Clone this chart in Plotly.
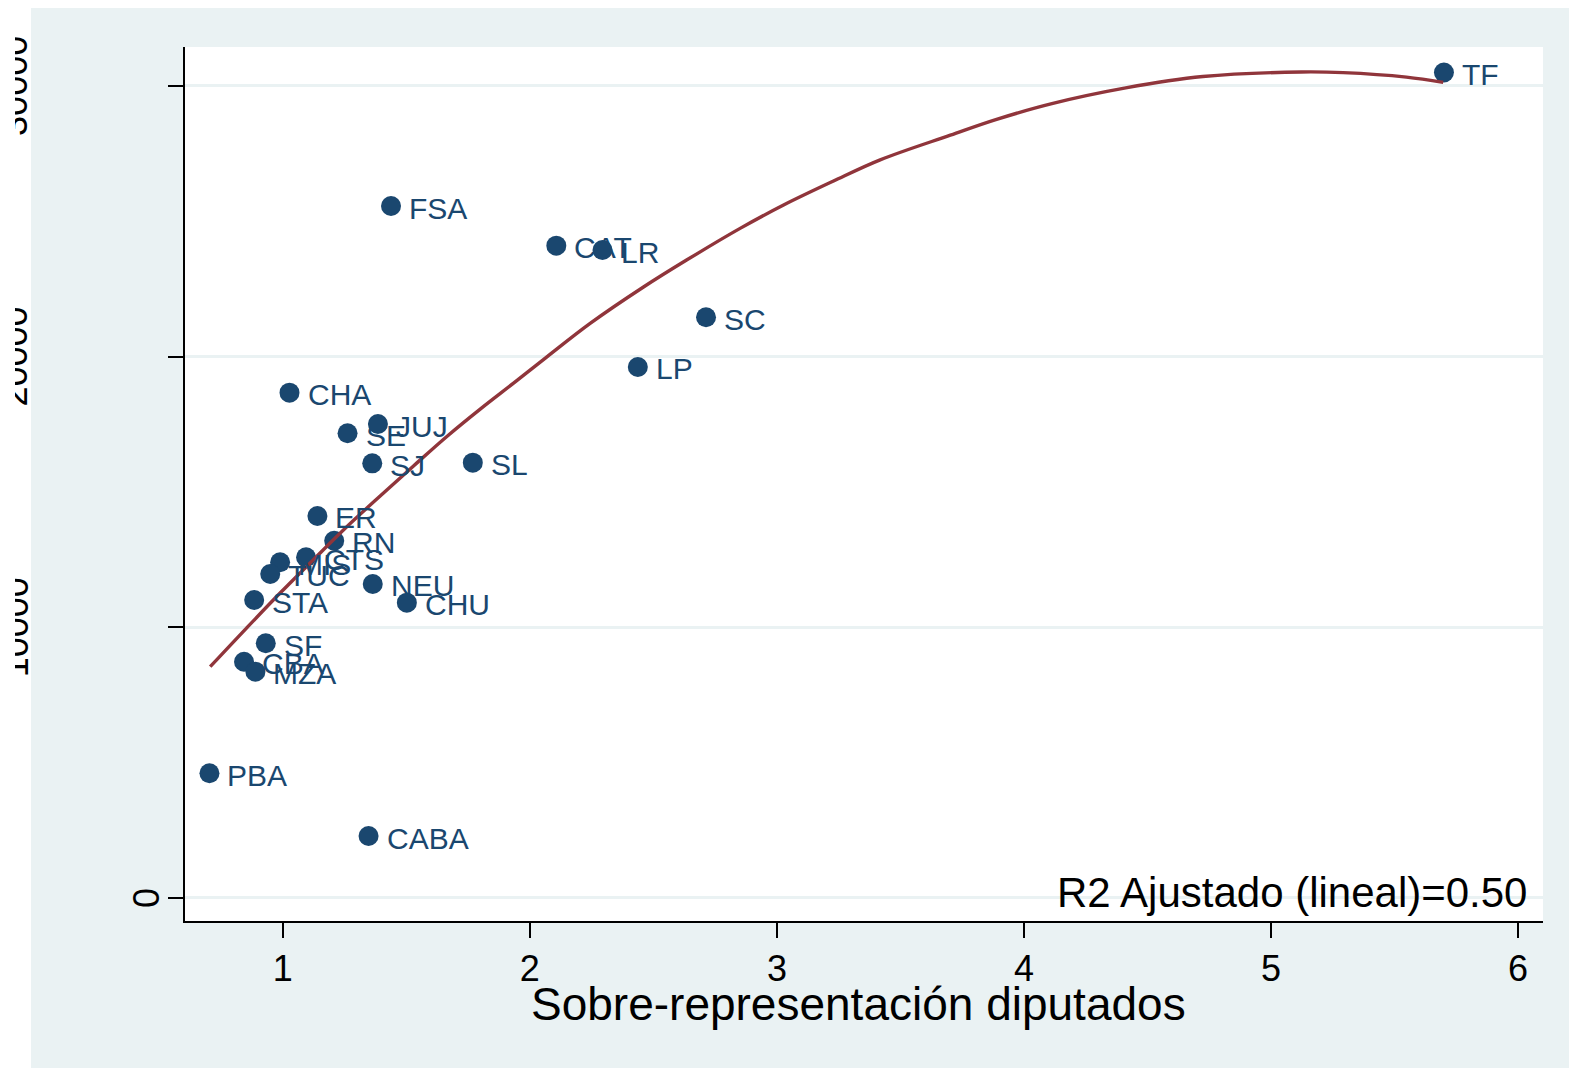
import plotly.graph_objects as go

# ---------------- data ----------------
provincias = ["TF", "FSA", "CAT", "LR", "SC", "LP", "CHA", "JUJ", "SE", "SJ", "SL",
              "ER", "RN", "CTS", "MIS", "TUC", "NEU", "STA", "CHU", "SF", "CBA",
              "MZA", "PBA", "CABA"]
sobre_representacion = [5.70, 1.438, 2.107, 2.294, 2.713, 2.437, 1.027, 1.385, 1.262,
                        1.362, 1.769, 1.140, 1.208, 1.094, 0.989, 0.949, 1.364, 0.884,
                        1.502, 0.931, 0.843, 0.889, 0.703, 1.347]
valor_y = [30495, 25563, 24097, 23938, 21452, 19616, 18667, 17510, 17167, 16058, 16081,
           14112, 13199, 12586, 12401, 11969, 11600, 11008, 10909, 9409, 8729,
           8360, 4607, 2290]

# quadratic fit line
fit_x = [0.706, 0.854, 0.989, 1.124, 1.259, 1.394, 1.529, 1.664, 1.799, 1.934, 2.069,
         2.244, 2.460, 2.636, 2.851, 3.027, 3.229, 3.418, 3.702, 3.886, 4.113, 4.412,
         4.724, 5.122, 5.292, 5.548, 5.697]
fit_y = [8545, 9980, 11265, 12500, 13715, 14850, 15960, 17050, 18060, 19020, 19990,
         21225, 22570, 23575, 24737, 25600, 26485, 27268, 28180, 28755, 29345, 29925,
         30345, 30515, 30491, 30325, 30130]

x_ticks = [1, 2, 3, 4, 5, 6]
y_ticks = [0, 10000, 20000, 30000]
y_tick_labels = ["0", "10000", "20000", "30000"]
x_title = "Sobre-representación diputados"
r2_text = "R2 Ajustado (lineal)=0.50"

# ---------------- style ----------------
FONT = "Liberation Sans, Arial, sans-serif"
NAVY = "#1A476F"
MAROON = "#90353B"
BG = "#EAF2F3"

W, H = 1569, 1068
ML, MR, MT, MB = 185, 26, 47, 147
PW = W - ML - MR
PH = H - MT - MB


def paper_x(px):
    return (px - ML) / PW


def paper_y(py):
    return (H - MB - py) / PH


fig = go.Figure()

fig.add_trace(go.Scatter(
    x=sobre_representacion, y=valor_y, mode="markers",
    marker=dict(color=NAVY, size=20, line=dict(width=0)),
    showlegend=False, hoverinfo="skip"))

fig.add_trace(go.Scatter(
    x=fit_x, y=fit_y, mode="lines",
    line=dict(color=MAROON, width=3.4, shape="spline", smoothing=1.0),
    showlegend=False, hoverinfo="skip"))

annotations = []
for name, xv, yv in zip(provincias, sobre_representacion, valor_y):
    annotations.append(dict(
        x=xv, y=yv, xref="x", yref="y", text=name, showarrow=False,
        xanchor="left", yanchor="middle", xshift=16, yshift=-2,
        font=dict(family=FONT, size=30, color=NAVY)))

# rotated y tick labels
for val, lab in zip(y_ticks, y_tick_labels):
    cx = 147 if lab == "0" else 15
    annotations.append(dict(
        x=paper_x(cx), y=val, xref="paper", yref="y", text=lab, showarrow=False,
        textangle=-90, xanchor="center", yanchor="middle",
        font=dict(family=FONT, size=36, color="black")))

# white strip hiding the left half of the clipped labels (as in the reference)
annotations.append(dict(
    x=paper_x(0), y=0.5, xref="paper", yref="paper", text=" ", showarrow=False,
    xanchor="left", yanchor="middle", width=15, height=1150, bgcolor="white",
    borderpad=0, borderwidth=0))

annotations.append(dict(
    x=paper_x(858), y=paper_y(1004), xref="paper", yref="paper", text=x_title,
    showarrow=False, xanchor="center", yanchor="middle",
    font=dict(family=FONT, size=46, color="black")))

annotations.append(dict(
    x=paper_x(1529), y=paper_y(892), xref="paper", yref="paper", text=r2_text,
    showarrow=False, xanchor="right", yanchor="middle",
    font=dict(family=FONT, size=42, color="black")))

shapes = [
    dict(type="rect", xref="paper", yref="paper", layer="below",
         x0=paper_x(31), x1=paper_x(W + 5), y0=paper_y(H + 5), y1=paper_y(8),
         fillcolor=BG, line=dict(width=0)),
    dict(type="rect", xref="paper", yref="paper", layer="below",
         x0=0, x1=1, y0=0, y1=1, fillcolor="white", line=dict(width=0)),
]

fig.update_layout(
    width=W, height=H,
    margin=dict(l=ML, r=MR, t=MT, b=MB, pad=0),
    paper_bgcolor="white", plot_bgcolor="rgba(0,0,0,0)",
    font=dict(family=FONT, color="black"),
    annotations=annotations, shapes=shapes,
    xaxis=dict(range=[0.604, 6.101], tickvals=x_ticks,
               ticktext=[str(t) for t in x_ticks],
               showgrid=False, zeroline=False, showline=True, linecolor="black",
               linewidth=1.5, ticks="outside", ticklen=15, tickwidth=1.5,
               tickcolor="black", tickfont=dict(family=FONT, size=36, color="black")),
    yaxis=dict(range=[-850, 31437], tickvals=y_ticks, showticklabels=False,
               showgrid=True, gridcolor=BG, gridwidth=3, zeroline=False,
               showline=True, linecolor="black", linewidth=1.5, ticks="outside",
               ticklen=15, tickwidth=1.5, tickcolor="black"),
)

fig.write_html("out.html", config={"displayModeBar": False},
               post_script="document.body.style.margin='0px';")
